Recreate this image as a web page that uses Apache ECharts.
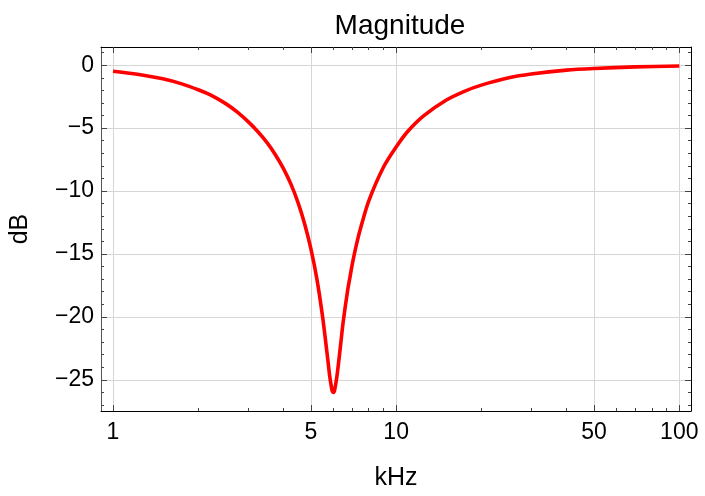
<!DOCTYPE html>
<html>
<head>
<meta charset="utf-8">
<title>Magnitude</title>
<script src="https://cdn.jsdelivr.net/npm/echarts@6/dist/echarts.min.js"></script>
<style>
  html, body { margin: 0; padding: 0; background: #ffffff; }
  #chart { width: 705px; height: 496px; }
</style>
</head>
<body>
<div id="chart"></div>
<script>
// Notch filter response: frequency (kHz) and magnitude (dB)
const freqKHz = [
  1, 1.25, 1.5, 1.75, 2, 2.25, 2.5, 2.75, 3, 3.25, 3.5, 3.75, 4, 4.25, 4.5,
  4.75, 5, 5.25, 5.5, 5.65, 5.75, 5.825, 5.9, 5.95, 6, 6.05, 6.1, 6.175,
  6.25, 6.375, 6.5, 6.75, 6.875, 7, 7.25, 7.5, 8, 9, 10, 11, 12.5, 15, 17.5,
  20, 25, 30, 40, 50, 70, 100
];
const magnitudeDb = [
  -0.48, -0.75, -1.08, -1.48, -1.95, -2.45, -3.05, -3.72, -4.48, -5.28, -6.15,
  -7.13, -8.22, -9.45, -10.9, -12.6, -14.6, -17.0, -20.0, -22.15, -23.6, -24.7,
  -25.5, -25.9, -26.0, -25.9, -25.5, -24.75, -23.8, -22.1, -20.4, -17.8, -16.8,
  -15.8, -14.2, -12.9, -10.8, -8.15, -6.5, -5.25, -4.02, -2.78, -2.05,
  -1.58, -1.0, -0.7, -0.39, -0.26, -0.13, -0.06
];

// Tick positions
const xMajorTicks = [1, 5, 10, 50, 100];
const xMinorTicks = [2, 3, 4, 6, 7, 8, 9, 20, 30, 40, 60, 70, 80, 90];
const yMajorTicks = [-25, -20, -15, -10, -5, 0];
const yMinorTicks = [-27, -26, -24, -23, -22, -21, -19, -18, -17, -16, -14, -13, -12,
  -11, -9, -8, -7, -6, -4, -3, -2, -1, 1];

const X_MIN = 0.907, X_MAX = 110;
const Y_MIN = -27.48, Y_MAX = 1.45;

const FONT = '"Liberation Sans", Arial, sans-serif';
const TEXT = '#000000';
const GRID_COLOR = '#d6d6d6';

function xAxisDef(position, ticks, major, lineColor) {
  return {
    type: 'log', logBase: 10, min: X_MIN, max: X_MAX, position: position,
    axisLine: { show: major, onZero: false, lineStyle: { color: lineColor, width: 1 } },
    axisTick: { show: true, inside: true, length: major ? 6 : 3, customValues: ticks,
      lineStyle: { color: '#444444', width: 1 } },
    axisLabel: { show: major && position === 'bottom', customValues: ticks, margin: 10,
      fontFamily: FONT, fontSize: 23, color: TEXT,
      formatter: v => String(Math.round(v)) },
    splitLine: { show: major && position === 'bottom',
      lineStyle: { color: GRID_COLOR, width: 1 } },
    minorTick: { show: false }, minorSplitLine: { show: false }
  };
}

function yAxisDef(position, ticks, major, lineColor) {
  return {
    type: 'value', min: Y_MIN, max: Y_MAX, position: position,
    axisLine: { show: major, onZero: false, lineStyle: { color: lineColor, width: 1 } },
    axisTick: { show: true, inside: true, length: major ? 6 : 3, customValues: ticks,
      lineStyle: { color: '#444444', width: 1 } },
    axisLabel: { show: major && position === 'left', customValues: ticks, margin: 7,
      fontFamily: FONT, fontSize: 23, color: TEXT,
      formatter: v => String(Math.round(v)).replace('-', '\u2212') },
    splitLine: { show: major && position === 'left',
      lineStyle: { color: GRID_COLOR, width: 1 } }
  };
}

const chart = echarts.init(document.getElementById('chart'), null, { renderer: 'canvas' });

const xAxes = [
  xAxisDef('bottom', xMajorTicks, true, '#000000'),
  xAxisDef('bottom', xMinorTicks, false, '#000000'),
  xAxisDef('top', xMajorTicks, true, '#000000'),
  xAxisDef('top', xMinorTicks, false, '#000000')
];
xAxes[0].name = 'kHz';
xAxes[0].nameLocation = 'middle';
xAxes[0].nameGap = 55;
xAxes[0].nameTextStyle = { fontFamily: FONT, fontSize: 25, color: TEXT };

const yAxes = [
  yAxisDef('left', yMajorTicks, true, '#555555'),
  yAxisDef('left', yMinorTicks, false, '#555555'),
  yAxisDef('right', yMajorTicks, true, '#000000'),
  yAxisDef('right', yMinorTicks, false, '#000000')
];
yAxes[0].name = 'dB';
yAxes[0].nameLocation = 'middle';
yAxes[0].nameGap = 68;
yAxes[0].nameRotate = 90;
yAxes[0].nameTextStyle = { fontFamily: FONT, fontSize: 25, color: TEXT };

chart.setOption({
  animation: false,
  backgroundColor: '#ffffff',
  title: {
    text: 'Magnitude', left: 395, top: 7, textAlign: 'center',
    textStyle: { fontFamily: FONT, fontSize: 28, fontWeight: 'normal', color: TEXT }
  },
  grid: { left: 100, top: 47, right: 14, bottom: 84, containLabel: false },
  xAxis: xAxes,
  yAxis: yAxes,
  series: [{
    type: 'line',
    xAxisIndex: 0, yAxisIndex: 0,
    data: freqKHz.map((f, i) => [f, magnitudeDb[i]]),
    showSymbol: false,
    smooth: 0.3,
    lineStyle: { color: '#ff0000', width: 3.6 },
    clip: true
  }]
});
</script>
</body>
</html>
